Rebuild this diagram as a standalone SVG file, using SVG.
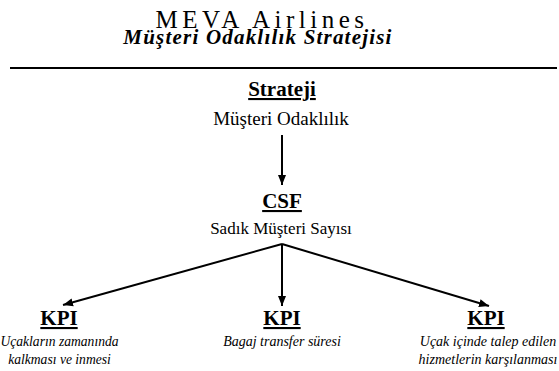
<svg xmlns="http://www.w3.org/2000/svg" width="559" height="371" viewBox="0 0 559 371">
<defs>
<style>
text{font-family:'Liberation Serif','Times New Roman',serif;fill:#000;text-anchor:middle}
.title{font-size:25px;letter-spacing:4.5px}
.sub{font-size:21px;font-weight:bold;font-style:italic;letter-spacing:1.2px}
.head{font-size:21px;font-weight:bold;text-decoration:underline}
.b1{font-size:19px}
.b2{font-size:17px}
.kpi{font-size:14px;font-style:italic}
.conn{stroke:#000;stroke-width:2;fill:none}
</style>
<marker id="ah" viewBox="0 0 10 10" refX="10" refY="5" markerWidth="5" markerHeight="5" orient="auto" markerUnits="strokeWidth">
<path d="M0,1 L10,5 L0,9 z" fill="#000"/>
</marker>
</defs>
<rect width="559" height="371" fill="#fff"/>
<g id="header">
<text class="title" x="262" y="28">MEVA Airlines</text>
<text class="sub" x="258" y="44">Müşteri Odaklılık Stratejisi</text>
<line x1="10" y1="68" x2="557" y2="68" stroke="#000" stroke-width="2"/>
</g>
<g id="strateji">
<text class="head" x="282" y="96">Strateji</text>
<text class="b1" x="281" y="125">Müşteri Odaklılık</text>
</g>
<g id="csf">
<text class="head" x="282" y="208">CSF</text>
<text class="b2" x="281" y="234">Sadık Müşteri Sayısı</text>
</g>
<g id="kpi1">
<text class="head" x="59" y="325">KPI</text>
<text class="kpi" x="59.5" y="346" style="font-size:13.6px">Uçakların zamanında</text>
<text class="kpi" x="59.5" y="364" style="font-size:13.6px">kalkması ve inmesi</text>
</g>
<g id="kpi2">
<text class="head" x="282" y="325">KPI</text>
<text class="kpi" x="282" y="346">Bagaj transfer süresi</text>
</g>
<g id="kpi3">
<text class="head" x="486" y="325">KPI</text>
<text class="kpi" x="488" y="346">Uçak içinde talep edilen</text>
<text class="kpi" x="488" y="364">hizmetlerin karşılanması</text>
</g>
<g id="connectors">
<line class="conn" x1="282" y1="135" x2="282" y2="185" marker-end="url(#ah)"/>
<line class="conn" x1="282" y1="244" x2="63" y2="305" marker-end="url(#ah)"/>
<line class="conn" x1="282" y1="244" x2="282" y2="306" marker-end="url(#ah)"/>
<line class="conn" x1="282" y1="244" x2="489" y2="306" marker-end="url(#ah)"/>
</g>
</svg>
